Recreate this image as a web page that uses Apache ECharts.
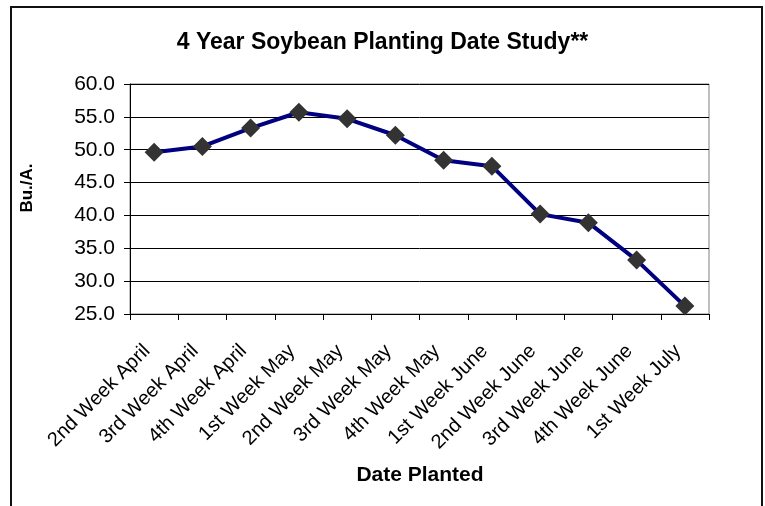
<!DOCTYPE html>
<html>
<head>
<meta charset="utf-8">
<script src="https://cdn.jsdelivr.net/npm/echarts@6/dist/echarts.min.js"></script>
<style>
html,body{margin:0;padding:0;background:#fff;}
#chart{width:765px;height:506px;}
</style>
</head>
<body>
<div id="chart"></div>
<script>
var categories = ["2nd Week April","3rd Week April","4th Week April","1st Week May","2nd Week May","3rd Week May","4th Week May","1st Week June","2nd Week June","3rd Week June","4th Week June","1st Week July"];
var yieldValues = [49.6, 50.5, 53.3, 55.7, 54.7, 52.2, 48.4, 47.5, 40.2, 38.9, 33.2, 26.2];
var titleText = "4 Year Soybean Planting Date Study**";
var yAxisName = "Bu./A.";
var xAxisName = "Date Planted";

var chart = echarts.init(document.getElementById('chart'), null, {renderer:'canvas'});
var font = 'Arial, "Liberation Sans", sans-serif';
chart.setOption({
  animation:false,
  backgroundColor:'#ffffff',
  title:{
    text:titleText, left:'center', top:26,
    textStyle:{fontFamily:font, fontSize:23, fontWeight:'bold', color:'#000'}
  },
  graphic:[{
    type:'rect', shape:{x:11, y:7, width:751, height:600},
    style:{fill:null, stroke:'#111', lineWidth:2}, silent:true, z:-1
  },{
    type:'text', x:420, y:475,
    style:{text:xAxisName, font:'bold 21px ' + font, fill:'#000', align:'center', verticalAlign:'middle'}
  },{
    type:'text', x:27, y:188, rotation:Math.PI/2,
    style:{text:yAxisName, font:'bold 17px ' + font, fill:'#000', align:'center', verticalAlign:'middle'}
  }],
  grid:{left:130, top:84, width:579, height:230, show:true, borderColor:'#808080', borderWidth:1, backgroundColor:'transparent'},
  xAxis:{
    type:'category', data:categories, boundaryGap:true,
    axisLine:{lineStyle:{color:'#000', width:1}},
    axisTick:{show:true, length:6, alignWithLabel:false, lineStyle:{color:'#000'}},
    axisLabel:{rotate:45, interval:0, margin:41, verticalAlign:'bottom', lineHeight:20, fontFamily:font, fontSize:20, color:'#000'},
    splitLine:{show:false}
  },
  yAxis:{
    type:'value', min:25, max:60, interval:5,
    axisLine:{show:true, lineStyle:{color:'#000', width:1}},
    axisTick:{show:true, length:6, lineStyle:{color:'#000'}},
    axisLabel:{margin:15, fontFamily:font, fontSize:21, color:'#000', formatter:function(v){return v.toFixed(1);}},
    splitLine:{show:true, lineStyle:{color:'#000', width:1}}
  },
  series:[{
    type:'line', data:yieldValues,
    lineStyle:{color:'#000080', width:4},
    symbol:'diamond', symbolSize:19,
    itemStyle:{color:'#333333'},
    z:3
  }]
});
</script>
</body>
</html>
